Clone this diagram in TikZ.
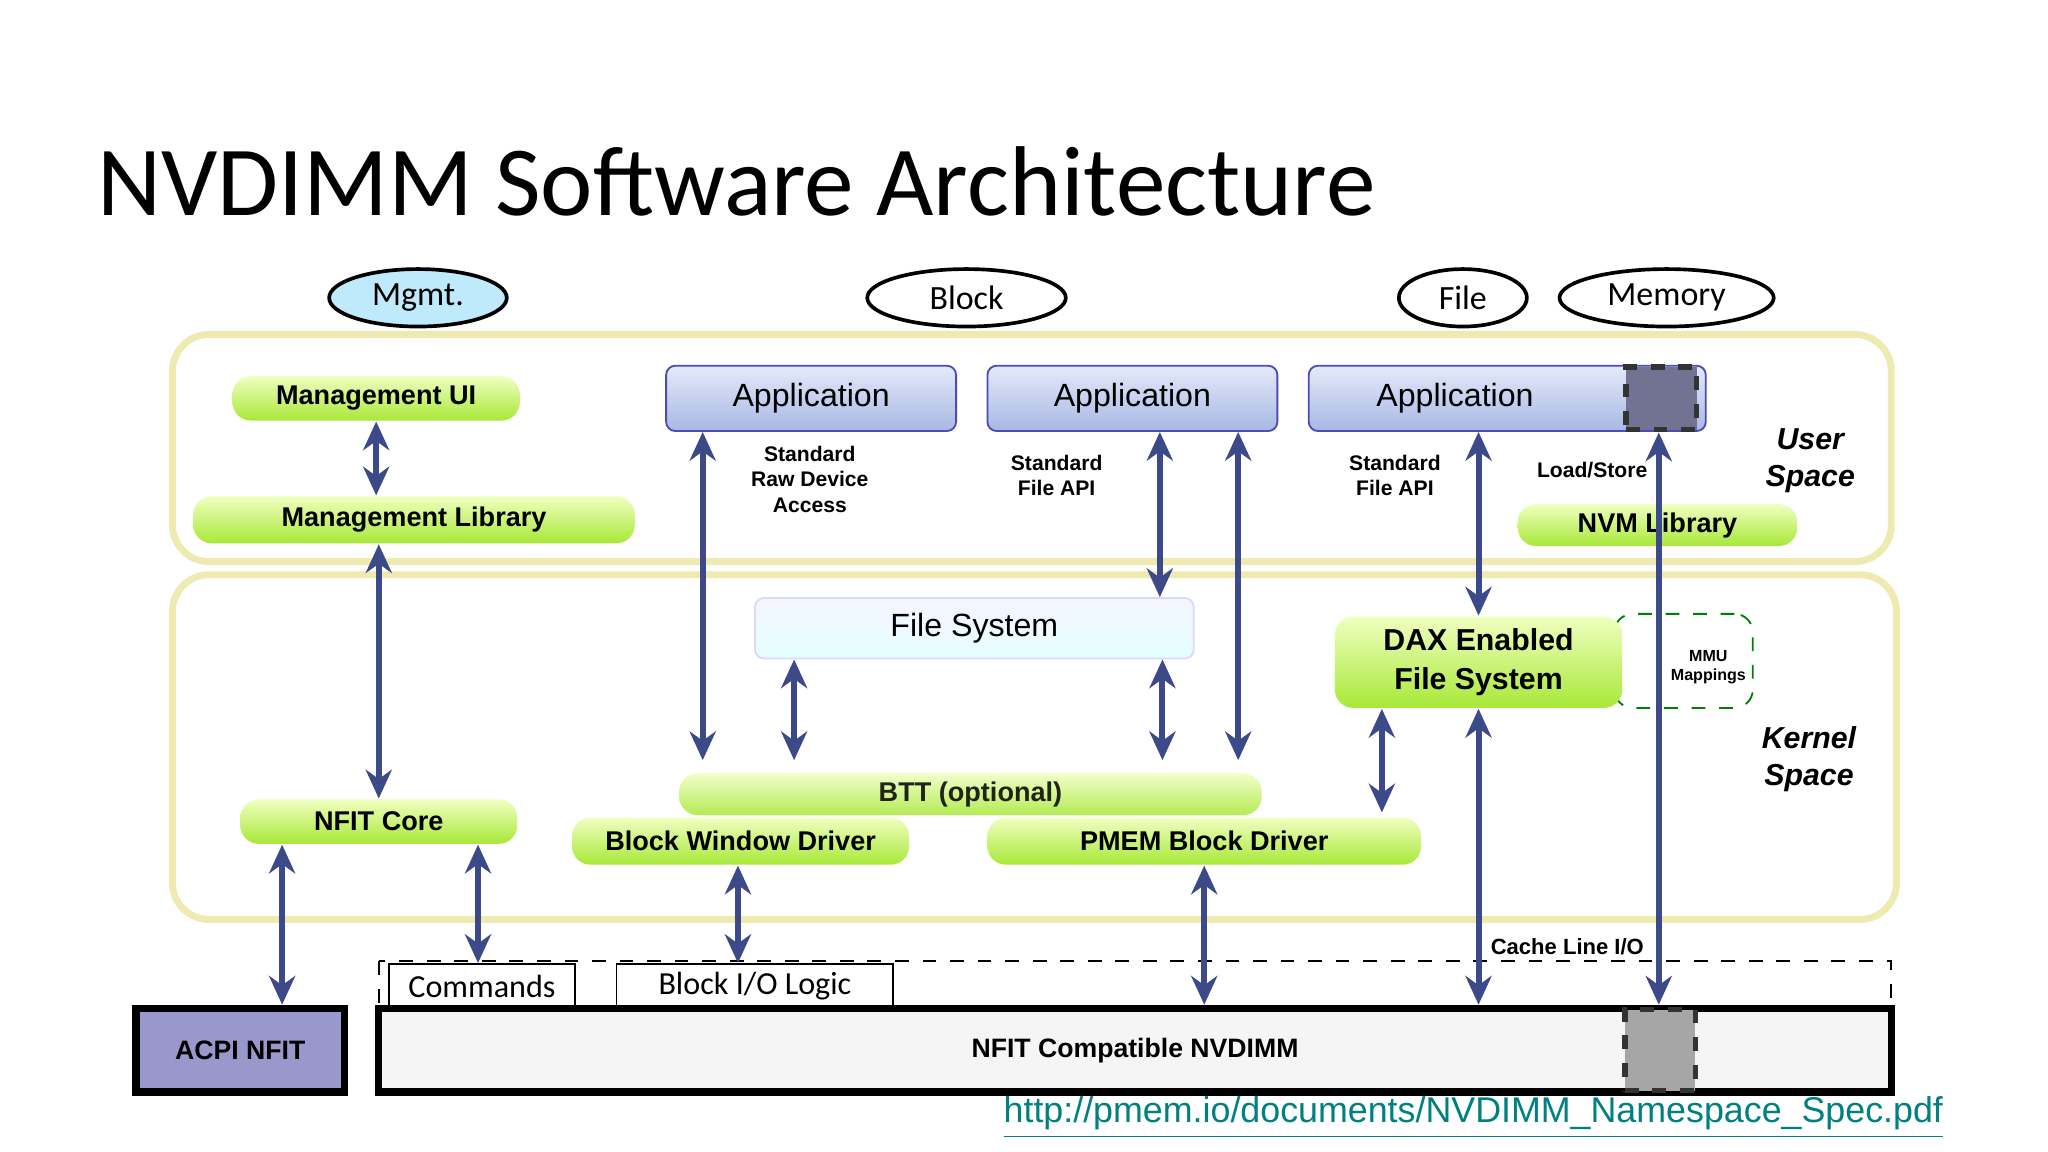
\documentclass[tikz,border=0pt]{standalone}
\usepackage{fontspec}
\setmainfont{Liberation Sans}
\newfontfamily\ttl{Carlito}
\usetikzlibrary{arrows.meta,shapes.geometric}
\definecolor{navy}{HTML}{3D4A8A}
\definecolor{khaki}{HTML}{EFEBB0}
\definecolor{gtop}{HTML}{F0FFC0}
\definecolor{gbot}{HTML}{A8E838}
\definecolor{atop}{HTML}{E4EAFA}
\definecolor{abot}{HTML}{A8B8E4}
\begin{document}
\begin{tikzpicture}[x=0.1mm,y=-0.1mm,
 green/.style={rounded corners=4pt,top color=gtop,bottom color=gbot,draw=none,inner sep=1pt,font=\bfseries\fontsize{5.9}{7}\selectfont},
 app/.style={rounded corners=2pt,top color=atop,bottom color=abot,draw=blue!40!gray,font=\fontsize{7}{9}\selectfont},
 oval/.style={ellipse,draw,thick,inner sep=0.5pt,minimum height=4.4mm,font=\ttl\fontsize{7.4}{9}\selectfont},
 region/.style={draw=khaki,line width=1.5pt,rounded corners=8pt},
 lbl/.style={align=center,font=\bfseries\fontsize{4.6}{5.6}\selectfont},
 sp/.style={align=center,font=\bfseries\itshape\fontsize{6.6}{8}\selectfont},
 arr/.style={draw=navy,line width=1.3pt,{Stealth[length=2.2mm,width=2mm]}-{Stealth[length=2.2mm,width=2mm]}}]
\useasboundingbox[fill=white] (0,0) rectangle (1568,882);
\node[anchor=base west,font=\ttl\fontsize{21.6}{26}\selectfont] (title) at (62,165) {NVDIMM Software Architecture};
% ovals
\node[oval,fill=cyan!25,minimum width=13.6mm] (mgmt) at (320,228) {Mgmt.};
\node[oval,minimum width=15.2mm] (block) at (740,228) {Block};
\node[oval,minimum width=9.8mm] (file) at (1120,228) {File};
\node[oval,minimum width=16.4mm] (memory) at (1276,228) {Memory};
% regions
\draw[region] (132,256) rectangle (1448,430);
\draw[region] (132,440) rectangle (1452,704);
\node[sp] (us) at (1386,353) {User\\Space};
\node[sp] (ks) at (1385,581) {Kernel\\Space};
% user space
\node[green,minimum width=22mm,minimum height=3.4mm] (mui) at (288,305) {Management UI};
\node[green,minimum width=33.8mm,minimum height=3.6mm] (mlib) at (317,398) {Management Library};
\node[green,minimum width=21.4mm,minimum height=3.2mm] (nvml) at (1269,402) {NVM Library};
\node[app,minimum width=22.2mm,minimum height=5mm] (app1) at (621,305) {Application};
\node[app,minimum width=22.2mm,minimum height=5mm] (app2) at (867,305) {Application};
\node[app,minimum width=30.4mm,minimum height=5mm] (app3) at (1154,305) {\hspace*{-8mm}Application};
\node[draw=black!80,dashed,line width=1.2pt,fill=gray!70!blue!60!black!70,minimum width=5.4mm,minimum height=4.8mm,inner sep=0] (sq1) at (1272,305) {};
\node[lbl] (t1) at (620,367) {Standard\\Raw Device\\Access};
\node[lbl] (t2) at (809,364) {Standard\\File API};
\node[lbl] (t3) at (1068,364) {Standard\\File API};
\node[lbl] (t4) at (1219,360) {Load/Store};
% kernel
\node[app,top color=blue!4,bottom color=cyan!10,draw=blue!15,minimum width=33.6mm,minimum height=4.6mm] (fs) at (746,481) {File System};
\node[draw=green!50!black,dashed,rounded corners=4pt,minimum width=10.6mm,minimum height=7.2mm] (mmu) at (1289,506) {};
\node[font=\bfseries\fontsize{3.5}{4.2}\selectfont,align=center] (mmut) at (1308,511) {MMU\\Mappings};
\node[green,align=center,minimum width=22mm,minimum height=7mm,font=\bfseries\fontsize{6.6}{8.4}\selectfont] (dax) at (1132,507) {DAX Enabled\\File System};
\node[green,minimum width=21.2mm,minimum height=3.4mm] (nfit) at (290,629) {NFIT Core};
% bottom
\draw[dashed] (290,736) rectangle (1448,772);
\node[draw,inner sep=1pt,minimum width=14.2mm,minimum height=3.4mm,font=\ttl\fontsize{7}{8}\selectfont] (cmd) at (369,755) {Commands};
\node[draw,inner sep=1pt,minimum width=21.2mm,minimum height=3.4mm,font=\ttl\fontsize{7}{8}\selectfont] (bio) at (578,755) {Block I/O Logic};
\node[draw,line width=1.6pt,fill=gray!8,minimum width=115.8mm,minimum height=6.4mm,font=\bfseries\fontsize{5.8}{7}\selectfont] (nv) at (869,804) {NFIT Compatible NVDIMM};
\node[draw=black!80,dashed,line width=1.2pt,fill=gray!70,minimum width=5.4mm,minimum height=6.2mm,inner sep=0] (sq2) at (1271,804) {};
\node[draw,line width=1.6pt,fill=blue!35!gray!60,minimum width=16mm,minimum height=6.4mm,font=\bfseries\fontsize{5.8}{7}\selectfont] (acpi) at (184,804) {ACPI NFIT};
\node[font=\bfseries\fontsize{4.8}{6}\selectfont] (cl) at (1200,725) {Cache Line I/O};
% arrows
\draw[arr] (mui.south-|288,0) -- (mlib.north-|288,0);
\draw[arr] (mlib.south-|290,0) -- (nfit.north-|290,0);
\draw[arr] (nfit.south-|216,0) -- (acpi.north-|216,0);
\draw[arr] (nfit.south-|366,0) -- (cmd.north-|366,0);
\draw[arr] (app1.south-|538,0) -- (538,582) coordinate (b1);
\draw[arr] (fs.south-|608,0) -- (608,582) coordinate (b2);
\draw[arr] (app2.south-|888,0) -- (fs.north-|888,0);
\draw[arr] (fs.south-|890,0) -- (890,582) coordinate (b3);
\draw[arr] (app2.south-|948,0) -- (948,582) coordinate (b4);
\draw[arr] (app3.south-|1132,0) -- (dax.north-|1132,0);
\draw[arr] (dax.south-|1058,0) -- (1058,622) coordinate (b5);
\draw[arr] (dax.south-|1132,0) -- (nv.north-|1132,0);
\draw[arr] (sq1.south-|1270,0) -- (nv.north-|1270,0);
% drivers on top
\node[green,opacity=0.85,minimum width=44.6mm,minimum height=3.2mm] (btt) at (743,608) {BTT (optional)};
\node[green,minimum width=25.8mm,minimum height=3.6mm] (bwd) at (567,644) {Block Window Driver};
\node[green,minimum width=33.2mm,minimum height=3.6mm] (pmem) at (922,644) {PMEM Block Driver};
\draw[arr] (bwd.south-|565,0) -- (bio.north-|565,0);
\draw[arr] (pmem.south-|922,0) -- (nv.north-|922,0);
\node[font=\fontsize{7.8}{10}\selectfont,text=teal] (url) at (1128,856) {\underline{http://pmem.io/documents/NVDIMM\_Namespace\_Spec.pdf}};
\end{tikzpicture}
\end{document}
